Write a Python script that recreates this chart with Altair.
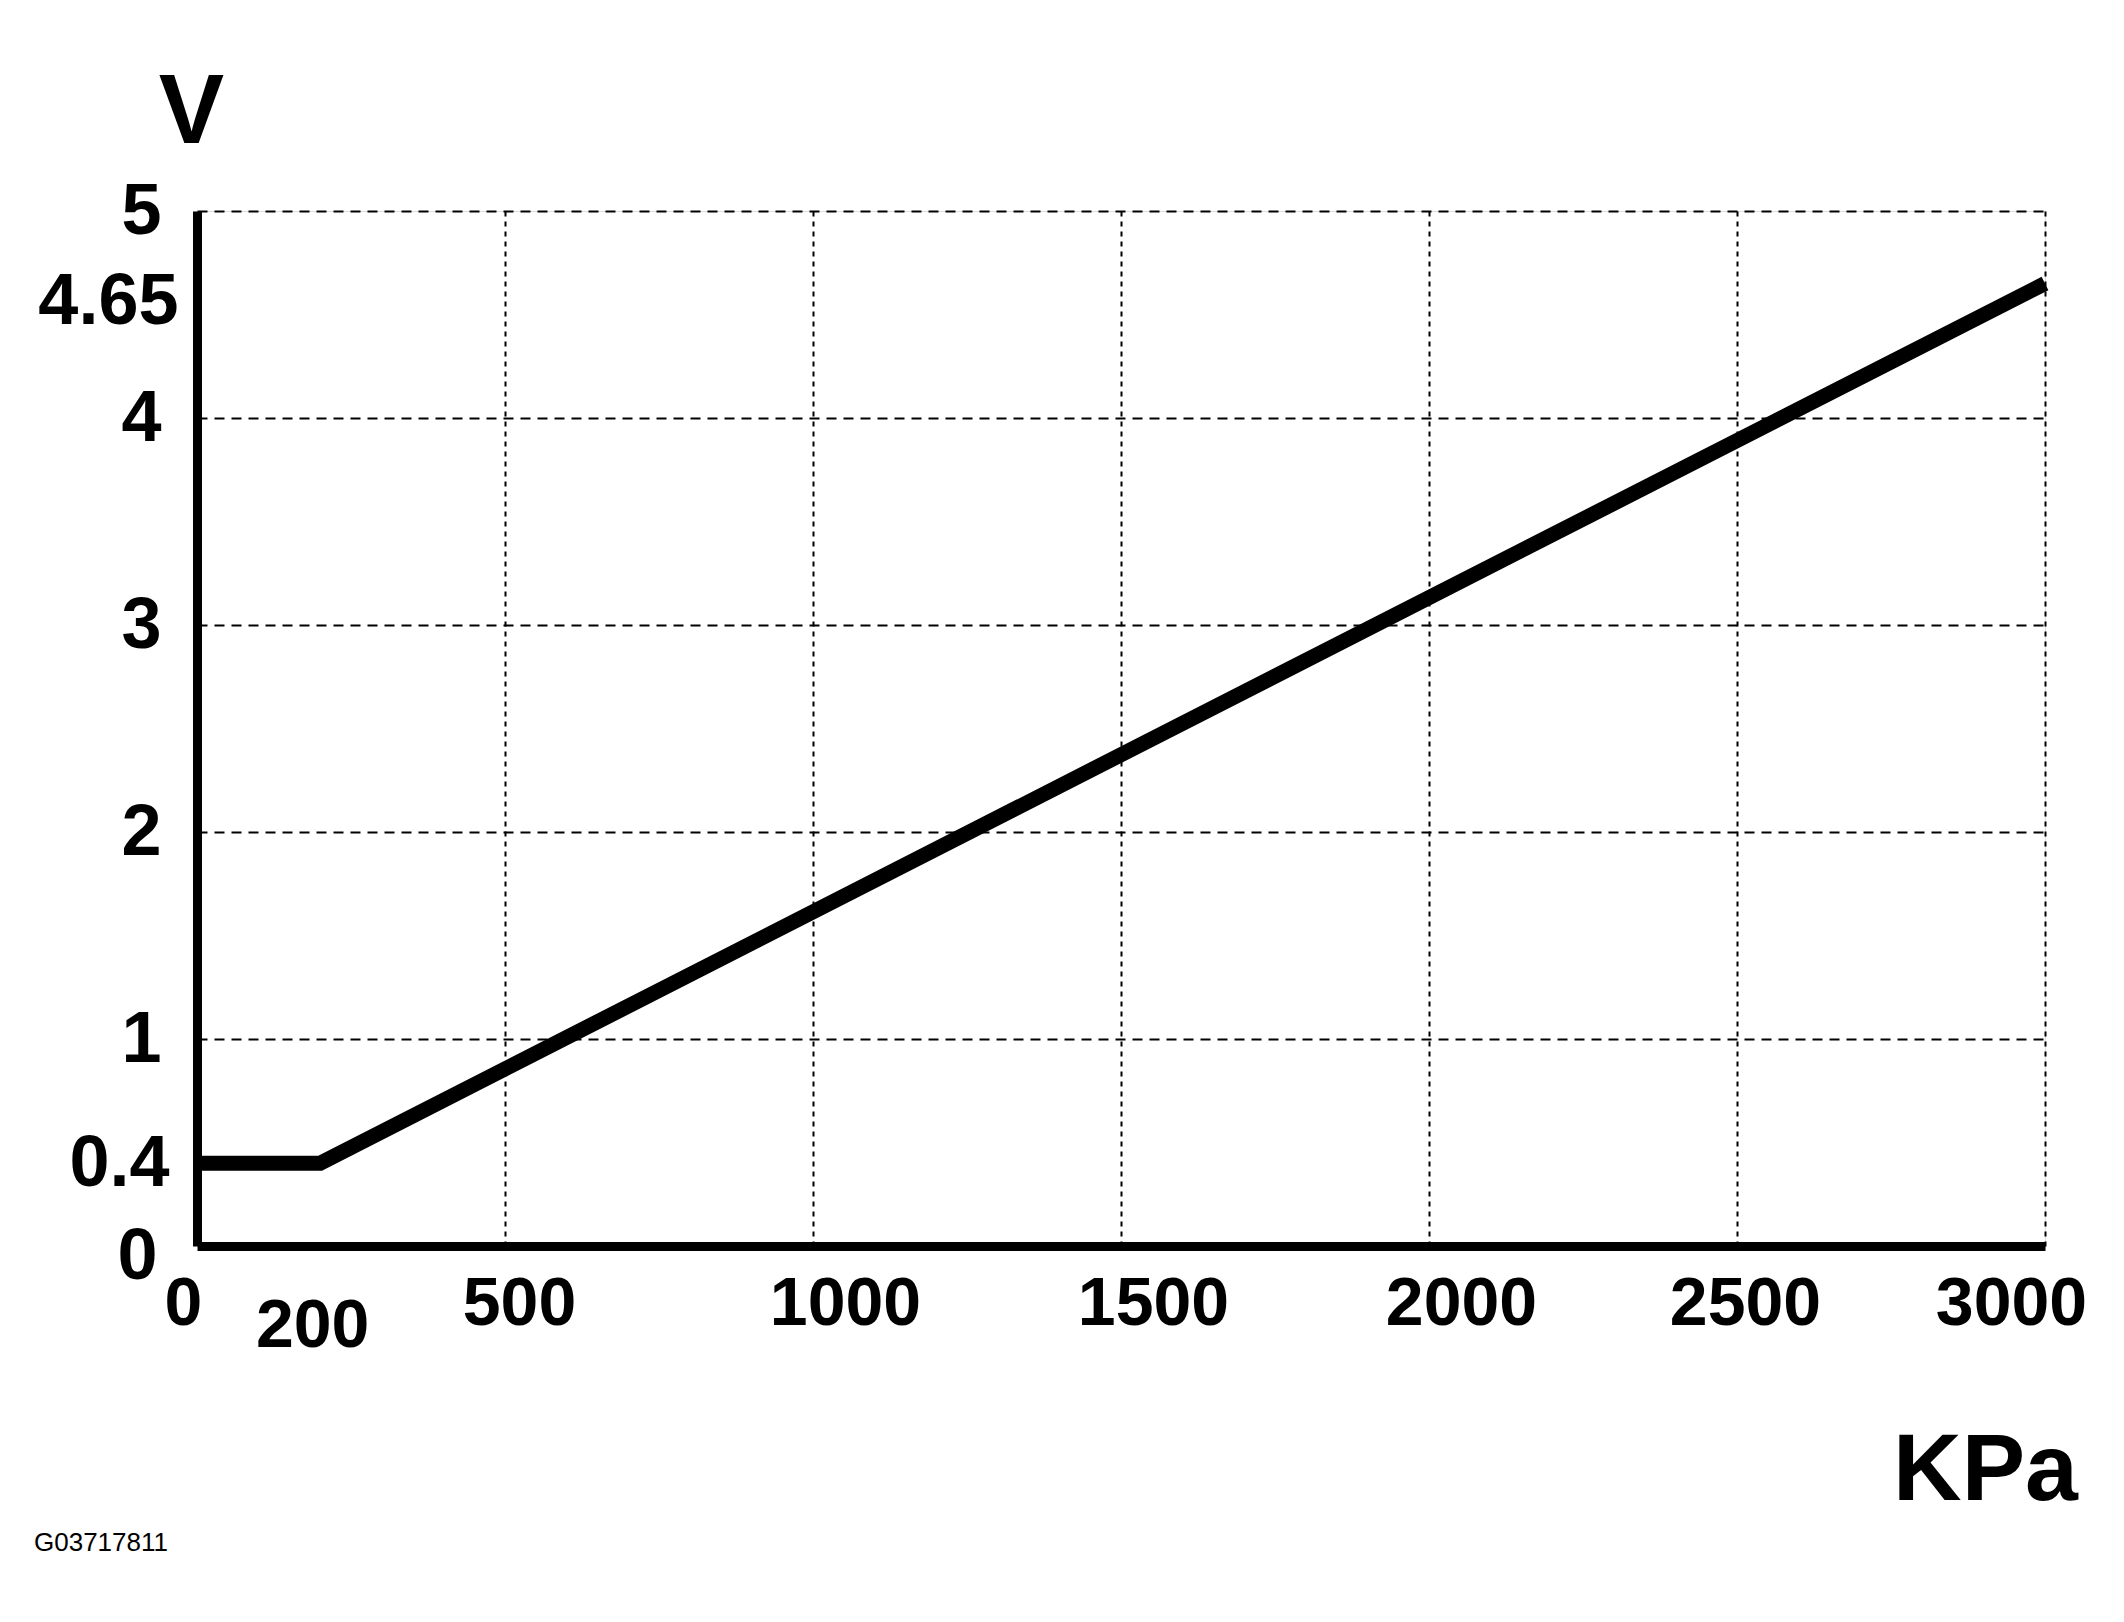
import altair as alt
import pandas as pd

# data
kpa = [0, 200, 3000]
volts = [0.4, 0.4, 4.65]
x_ticks = [0, 200, 500, 1000, 1500, 2000, 2500, 3000]
y_ticks = [0, 0.4, 1, 2, 3, 4, 4.65, 5]
x_title = "KPa"
y_title = "V"
code_text = "G03717811"

df = pd.DataFrame({"kpa": kpa, "volts": volts})

FONT = "Liberation Sans"

x_axis = alt.Axis(
    values=x_ticks,
    labelExpr="'' + datum.value",
    labelFont=FONT, labelFontWeight="bold", labelFontSize=68, labelColor="black",
    labelBaseline="top", labelAlign="center", labelFlush=False, labelOverlap=False,
    labelPadding={"expr": "datum.value == 200 ? 46 : 24"},
    labelOffset={"expr": "datum.value == 0 ? -14 : datum.value == 200 ? -8 : datum.value == 500 ? 14 : datum.value == 2500 ? 8 : datum.value == 3000 ? -34 : 32"},
    ticks=False, tickSize=0,
    domain=True, domainColor="black", domainWidth=9,
    grid=True, gridColor="black", gridWidth=2, gridDash=[5, 5],
    gridOpacity={"expr": "datum.value == 0 || datum.value == 200 ? 0 : 1"},
    title=x_title, titleFont=FONT, titleFontWeight="bold", titleFontSize=95, titleColor="black",
    titleAnchor="start", titleAlign="center", titleBaseline="middle",
    titleX=1788, titleY=224,
)

y_axis = alt.Axis(
    values=y_ticks,
    labelExpr="'' + datum.value",
    labelFont=FONT, labelFontWeight="bold", labelFontSize=72, labelColor="black",
    labelAlign="right", labelBaseline="middle", labelFlush=False, labelOverlap=False,
    labelPadding={"expr": "datum.value == 4.65 ? 19 : datum.value == 0.4 ? 28 : datum.value == 0 ? 40 : 36"},
    labelOffset={"expr": "datum.value == 4.65 ? 18 : datum.value == 0 ? 10 : 0"},
    ticks=False, tickSize=0,
    domain=True, domainColor="black", domainWidth=9,
    grid=True, gridColor="black", gridWidth=1.8, gridDash=[10, 7],
    gridOpacity={"expr": "datum.value == 0 || datum.value == 0.4 || datum.value == 4.65 ? 0 : 1"},
    title=y_title, titleFont=FONT, titleFontWeight="bold", titleFontSize=98, titleColor="black",
    titleAngle=0, titleAlign="center", titleBaseline="middle",
    titleX=-6, titleY=-98,
)

chart = alt.Chart(df).mark_line(
    color="black", strokeWidth=15, strokeCap="butt", strokeJoin="miter"
).encode(
    x=alt.X("kpa:Q", scale=alt.Scale(domain=[0, 3000], nice=False, zero=True), axis=x_axis),
    y=alt.Y("volts:Q", scale=alt.Scale(domain=[0, 5], nice=False, zero=True), axis=y_axis),
).properties(
    width=1848,
    height=1035,
    title=alt.TitleParams(
        text=code_text, orient="bottom", anchor="start", frame="group",
        font=FONT, fontSize=26, fontWeight="normal", color="black",
        dx=-163, offset=12,
    ),
    autosize=alt.AutoSizeParams(type="none"),
    padding={"left": 189, "top": 203, "right": 60, "bottom": 360},
).configure_view(
    stroke=None
).configure(
    background="white"
)

chart.save("out.html", embed_options={"renderer": "svg", "actions": False})
